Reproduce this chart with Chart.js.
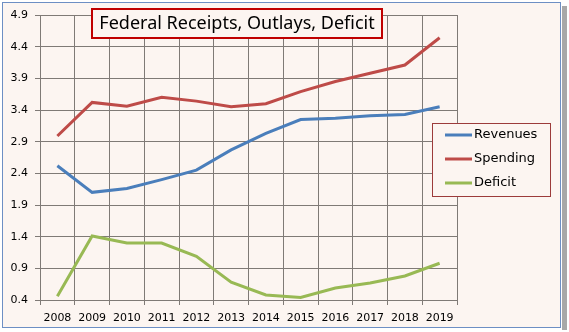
<!DOCTYPE html>
<html>
<head>
<meta charset="utf-8">
<script src="https://cdn.jsdelivr.net/npm/chart.js@4/dist/chart.umd.min.js"></script>
<style>
  html, body { margin: 0; padding: 0; background: #fff; }
  #wrap { width: 569px; height: 332px; position: relative; }
</style>
</head>
<body>
<div id="wrap"><canvas id="budgetChart" width="569" height="332"></canvas></div>
<script>
// Federal receipts / outlays / deficit (trillions)
const years = ['2008', '2009', '2010', '2011', '2012', '2013', '2014', '2015', '2016', '2017', '2018', '2019'];
const revenues = [2.52, 2.10, 2.16, 2.30, 2.45, 2.77, 3.03, 3.25, 3.27, 3.31, 3.33, 3.45];
const spending = [2.99, 3.52, 3.46, 3.60, 3.54, 3.45, 3.50, 3.69, 3.85, 3.98, 4.11, 4.54];
const deficit = [0.46, 1.41, 1.30, 1.30, 1.09, 0.68, 0.48, 0.44, 0.59, 0.67, 0.78, 0.98];
const yTicks = [0.4, 0.9, 1.4, 1.9, 2.4, 2.9, 3.4, 3.9, 4.4, 4.9];

const titleText = 'Federal Receipts, Outlays, Deficit';
const gridColor = '#7f7a76';
const fontFam = '"DejaVu Sans", Verdana, sans-serif';

// background, frame, title box and legend box
const decor = {
    id: 'decor',
    beforeDraw(chart) {
        const c = chart.ctx;
        c.save();
        // shadow on the right
        c.fillStyle = '#a8a8a8';
        c.fillRect(562, 6, 5, 324);
        c.fillStyle = '#fcf5f1';
        c.fillRect(2, 2, 559, 326);
        c.strokeStyle = '#6d8fc4';
        c.lineWidth = 1;
        c.strokeRect(2.5, 2.5, 558, 325);
        c.restore();
    },
    afterDraw(chart) {
        const c = chart.ctx;
        c.save();
        // title box
        c.fillStyle = '#fcf5f1';
        c.fillRect(92, 9, 290, 29);
        c.strokeStyle = '#c00000';
        c.lineWidth = 2;
        c.strokeRect(92, 9, 290, 29);
        c.fillStyle = '#000';
        let size = 20;
        c.font = size + 'px "Noto Sans", sans-serif';
        while (c.measureText(titleText).width > 280 && size > 10) {
            size -= 0.5;
            c.font = size + 'px "Noto Sans", sans-serif';
        }
        c.textAlign = 'center';
        c.textBaseline = 'middle';
        c.fillText(titleText, 237, 24);

        // legend box
        c.fillStyle = '#fcf5f1';
        c.fillRect(432, 123, 118, 73);
        c.strokeStyle = '#9c3b3b';
        c.lineWidth = 1;
        c.strokeRect(432.5, 123.5, 118, 73);
        c.font = '13px ' + fontFam;
        c.textAlign = 'left';
        chart.data.datasets.forEach((ds, i) => {
            const y = 135 + i * 24;
            c.strokeStyle = ds.borderColor;
            c.lineWidth = 3;
            c.beginPath();
            c.moveTo(445, y);
            c.lineTo(472, y);
            c.stroke();
            c.fillStyle = '#000';
            c.fillText(ds.label, 474, y);
        });
        c.restore();
    }
};

const ctx = document.getElementById('budgetChart').getContext('2d');
const budgetChart = new Chart(ctx, {
    type: 'line',
    data: {
        labels: years,
        datasets: [
            { label: 'Revenues', data: revenues, borderColor: '#4a7ebb' },
            { label: 'Spending', data: spending, borderColor: '#be4b48' },
            { label: 'Deficit', data: deficit, borderColor: '#98b954' }
        ]
    },
    options: {
        responsive: false,
        animation: false,
        elements: {
            line: { borderWidth: 3, tension: 0, fill: false },
            point: { radius: 0 }
        },
        layout: { padding: { left: 0, right: 112, top: 15, bottom: 0 } },
        plugins: {
            legend: { display: false },
            title: { display: false },
            tooltip: { enabled: false }
        },
        scales: {
            x: {
                offset: true,
                grid: { offset: true, color: gridColor, tickLength: 5, drawTicks: true },
                border: { color: gridColor },
                ticks: {
                    color: '#000',
                    font: { family: fontFam, size: 11 },
                    maxRotation: 0,
                    padding: 7
                },
                afterFit(scale) { scale.height = 32; }
            },
            y: {
                min: 0.4,
                max: 4.9,
                afterBuildTicks(scale) { scale.ticks = yTicks.map(v => ({ value: v })); },
                grid: { color: gridColor, tickLength: 5 },
                border: { color: gridColor },
                ticks: {
                    color: '#000',
                    font: { family: fontFam, size: 11 },
                    padding: 7,
                    callback: v => v.toFixed(1)
                },
                afterFit(scale) { scale.width = 40; }
            }
        }
    },
    plugins: [decor]
});
</script>
</body>
</html>
